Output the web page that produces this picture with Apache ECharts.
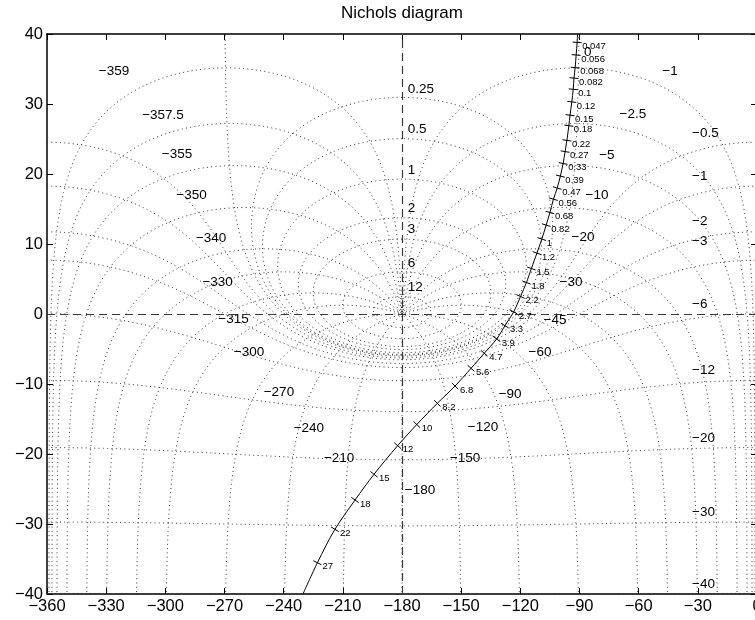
<!DOCTYPE html>
<html><head><meta charset="utf-8">
<script src="https://cdn.jsdelivr.net/npm/echarts/dist/echarts.min.js"></script>
<style>html,body{margin:0;padding:0;background:#fff;overflow:hidden}#c{width:755px;height:620px}</style>
</head><body><div id="c"></div>
<script>
// ---------- data ----------
const titleText = 'Nichols diagram';
const phaseRange = [-360, 0, 30];   // min, max, step (deg)
const gainRange = [-40, 40, 10];    // min, max, step (dB)

// open-loop frequency response markers (rad/s)
const freqLabels = ['0.047','0.056','0.068','0.082','0.1','0.12','0.15','0.18','0.22','0.27','0.33','0.39','0.47','0.56','0.68','0.82','1','1.2','1.5','1.8','2.2','2.7','3.3','3.9','4.7','5.6','6.8','8.2','10','12','15','18','22','27'];
const markerPhase = [-91.2,-91.7,-92.2,-92.8,-93.2,-93.9,-94.8,-95.4,-96.4,-97.3,-98.3,-99.7,-101.3,-103.2,-105.0,-106.9,-109.1,-111.6,-114.4,-116.9,-119.9,-123.4,-127.8,-132.0,-138.3,-145.0,-153.1,-162.1,-172.5,-182.2,-194.2,-203.8,-214.0,-222.9];
const markerGain = [38.8,37.0,35.2,33.7,32.1,30.3,28.4,26.9,24.8,23.2,21.5,19.7,18.0,16.4,14.5,12.7,10.7,8.7,6.5,4.5,2.5,0.3,-1.67,-3.57,-5.61,-7.76,-10.29,-12.76,-15.79,-18.81,-22.9,-26.57,-30.76,-35.53];
const curveStart = [-91.0, 40.0];
const curveEnd = [-230.2, -40.0];

// Nichols grid: closed-loop gains (dB) and phases (deg)
const closedLoopGainsDb = [12,6,3,2,1,0.5,0.25,0,-0.5,-1,-2,-3,-6,-12,-20,-30,-40];
const closedLoopPhasesDeg = [-1,-2.5,-5,-10,-20,-30,-45,-60,-90,-120,-150,-180,-210,-240,-270,-300,-315,-330,-340,-350,-355,-357.5,-359];

// grid labels
const phaseLabelText = ['\u2212359','\u2212357.5','\u2212355','\u2212350','\u2212340','\u2212330','\u2212315','\u2212300','\u2212270','\u2212240','\u2212210','\u2212180','\u2212150','\u2212120','\u221290','\u221260','\u221245','\u221230','\u221220','\u221210','\u22125','\u22122.5','\u22121'];
const phaseLabelPhase = [-326.0,-301.2,-294.1,-286.7,-276.8,-273.5,-265.4,-257.6,-242.4,-227.2,-211.9,-170.9,-148.0,-138.9,-125.2,-110.0,-102.4,-94.3,-88.2,-81.1,-76.1,-62.9,-44.1];
const phaseLabelGain = [34.67,28.43,22.79,17.0,10.86,4.57,-0.79,-5.43,-11.21,-16.29,-20.64,-25.21,-20.57,-16.14,-11.43,-5.53,-0.86,4.5,11.0,16.9,22.71,28.5,34.64];

const gainLabelText = ['0.25','0.5','1','2','3','6','12','0','\u22120.5','\u22121','\u22122','\u22123','\u22126','\u221212','\u221220','\u221230','\u221240'];
const gainLabelPhase = [-177.1,-177.1,-177.1,-177.1,-177.1,-177.1,-177.1,-87.7,-32.95,-32.95,-32.95,-32.95,-32.95,-32.95,-32.95,-32.95,-32.95];
const gainLabelGain = [32.04,26.43,20.47,15.07,12.07,7.29,3.86,37.43,25.86,19.61,13.19,10.33,1.43,-8.1,-17.7,-28.36,-38.57];

// ---------- build ----------
const FONT = '"Liberation Sans", Arial, Helvetica, sans-serif';
const minus = v => String(v).replace('-', '\u2212');
const D2R = Math.PI / 180;
const SX = 710 / 360, SY = 560 / 80; // only used to thin dense contour samples

function thin(pts) {
  const out = [pts[0]]; let last = pts[0];
  for (let i = 1; i < pts.length; i++) {
    const p = pts[i];
    const dx = (p[0] - last[0]) * SX, dy = (p[1] - last[1]) * SY;
    if (dx * dx + dy * dy >= 1 || i === pts.length - 1) { out.push(p); last = p; }
  }
  return out;
}

function phaseContour(N) {
  const c = Math.cos(N * D2R), s = Math.sin(N * D2R);
  const pts = [];
  for (let k = -3; k <= 5; k += 0.0002) {
    const t = Math.pow(10, k);
    const re = 1 - t * c, im = -t * s;
    const mag = t / Math.hypot(re, im);
    const ph = N - Math.atan2(im, re) / D2R;
    pts.push([ph, 20 * Math.log10(mag)]);
  }
  return thin(pts);
}

function gainContour(Mdb) {
  const M = Math.pow(10, Mdb / 20);
  const n = 40000, eps = 1e-5;
  const raw = [];
  let prev = null;
  for (let i = 0; i <= n; i++) {
    const th = Mdb === 0 ? eps + (i / n) * (2 * Math.PI - 2 * eps) : (i / n) * 2 * Math.PI;
    const tr = M * Math.cos(th), ti = M * Math.sin(th);
    const dr = 1 - tr, di = -ti;
    const den = dr * dr + di * di;
    const gr = (tr * dr + ti * di) / den, gi = (ti * dr - tr * di) / den;
    let ph = Math.atan2(gi, gr) / D2R;
    if (prev !== null) { while (ph - prev > 180) ph -= 360; while (ph - prev < -180) ph += 360; }
    prev = ph;
    raw.push([ph, 20 * Math.log10(Math.hypot(gr, gi))]);
  }
  const mid = raw[Math.round(n / 2)][0];
  const shift = -360 * Math.round((mid + 180) / 360);
  return thin(raw.map(p => [p[0] + shift, p[1]]));
}

const dotted = { color: '#333', width: 1, type: [1, 3.3] };
const series = [];
closedLoopGainsDb.forEach(m => series.push({
  type: 'line', data: gainContour(m), symbol: 'none', silent: true, clip: true, z: 1,
  lineStyle: dotted, animation: false
}));
closedLoopPhasesDeg.forEach(n => series.push({
  type: 'line', data: phaseContour(n), symbol: 'none', silent: true, clip: true, z: 1,
  lineStyle: dotted, animation: false
}));

const curvePts = [curveStart].concat(markerPhase.map((p, i) => [p, markerGain[i]])).concat([curveEnd]);

series.push({
  type: 'line', data: curvePts, symbol: 'none', silent: true, clip: true, z: 5, smooth: 0.3,
  lineStyle: { color: '#000', width: 1 }, animation: false,
  markLine: {
    silent: true, symbol: ['none', 'none'], label: { show: false }, animation: false,
    lineStyle: { color: '#3a3a3a', type: [8, 5], width: 1.2 },
    data: [{ yAxis: 0 }, { xAxis: -180 }]
  }
});

series.push({
  type: 'custom', silent: true, z: 6, animation: false, clip: true,
  data: markerPhase.map((p, i) => [i + 1, p, markerGain[i]]),
  renderItem: function (params, api) {
    const k = api.value(0);
    const p = api.coord([api.value(1), api.value(2)]);
    const a = api.coord(curvePts[k - 1]), b = api.coord(curvePts[k + 1]);
    let dx = b[0] - a[0], dy = b[1] - a[1];
    const L = Math.hypot(dx, dy) || 1; dx /= L; dy /= L;
    const h = 4.5, nx = -dy * h, ny = dx * h;
    return { type: 'group', children: [
      { type: 'line', shape: { x1: p[0] - nx, y1: p[1] - ny, x2: p[0] + nx, y2: p[1] + ny }, style: { stroke: '#000', lineWidth: 1 } },
      { type: 'text', x: p[0] + 5, y: p[1] + 4, style: { text: freqLabels[params.dataIndex], fill: '#000', fontSize: 9.5, fontFamily: FONT, align: 'left', verticalAlign: 'middle' } }
    ] };
  }
});

const gridLabels = phaseLabelText.map((t, i) => [phaseLabelPhase[i], phaseLabelGain[i], 0, i])
  .concat(gainLabelText.map((t, i) => [gainLabelPhase[i], gainLabelGain[i], 1, i]));
series.push({
  type: 'custom', silent: true, z: 4, animation: false, clip: false,
  data: gridLabels,
  renderItem: function (params, api) {
    const p = api.coord([api.value(0), api.value(1)]);
    const kind = api.value(2), idx = api.value(3);
    const txt = kind === 0 ? phaseLabelText[idx] : gainLabelText[idx];
    return { type: 'text', x: p[0], y: p[1], style: { text: txt, fill: '#000', fontSize: 13.5, fontFamily: FONT, align: kind === 0 ? 'center' : 'left', verticalAlign: 'middle' } };
  }
});

const axisLine = { onZero: false, lineStyle: { color: '#000', width: 1.5 } };
const axisTick = { inside: true, length: 6, lineStyle: { color: '#000', width: 1 } };
const chart = echarts.init(document.getElementById('c'), null, { renderer: 'canvas' });
chart.setOption({
  animation: false,
  backgroundColor: '#fff',
  graphic: [{ type: 'text', x: 402, y: 13, style: { text: titleText, fill: '#000', fontSize: 17, fontFamily: FONT, align: 'center', verticalAlign: 'middle' } }],
  grid: { left: 47, top: 34, width: 710, height: 560, containLabel: false, outerBoundsMode: 'none' },
  xAxis: [
    { type: 'value', min: phaseRange[0], max: phaseRange[1], interval: phaseRange[2], position: 'bottom', axisLine, axisTick, splitLine: { show: false },
      axisLabel: { margin: 4, color: '#000', fontSize: 16.5, fontFamily: FONT, formatter: minus } },
    { type: 'value', min: phaseRange[0], max: phaseRange[1], interval: phaseRange[2], position: 'top', axisLine, axisTick, splitLine: { show: false }, axisLabel: { show: false } }
  ],
  yAxis: [
    { type: 'value', min: gainRange[0], max: gainRange[1], interval: gainRange[2], position: 'left', axisLine, axisTick, splitLine: { show: false },
      axisLabel: { margin: 4, color: '#000', fontSize: 16.5, fontFamily: FONT, formatter: minus } },
    { type: 'value', min: gainRange[0], max: gainRange[1], interval: gainRange[2], position: 'right', axisLine, axisTick, splitLine: { show: false }, axisLabel: { show: false } }
  ],
  series
});
</script></body></html>
